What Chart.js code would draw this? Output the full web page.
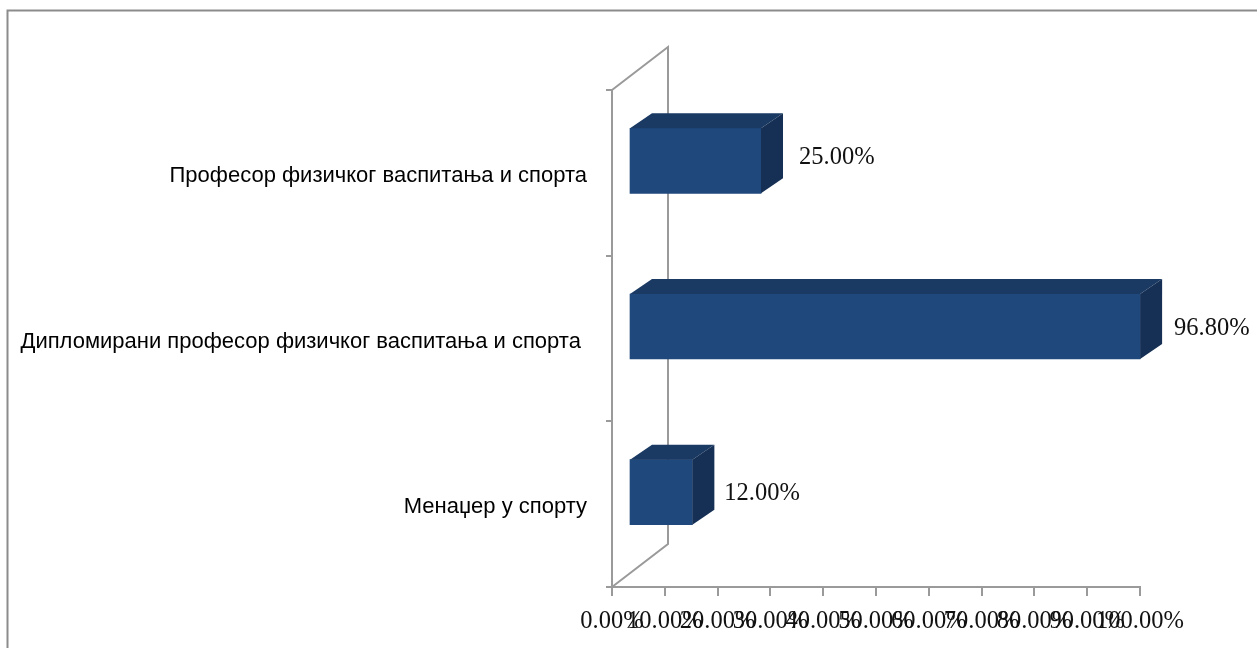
<!DOCTYPE html>
<html><head><meta charset="utf-8">
<style>html,body{margin:0;padding:0;background:#fff;overflow:hidden}canvas{display:block;filter:blur(0.45px)}</style>
<script src="https://cdn.jsdelivr.net/npm/chart.js@4"></script>
</head><body><div style="width:1257px;height:648px"><canvas id="c"></canvas></div>
<script>
const categories = ["Професор физичког васпитања и спорта", "Дипломирани професор физичког васпитања и спорта ", "Менаџер у спорту"];
const values = [25, 96.8, 12];
const xTicks = [0,10,20,30,40,50,60,70,80,90,100];
const labelNudges = [[1,-5],[-3,0],[-5,-1]];

const GREY = '#9a9a9a', FRONT = '#1f497d', TOP = '#1a3a63', SIDE = '#162f54';
const pct = v => v.toFixed(2) + '%';
const catFont = {family:'"Liberation Sans"', size:22};
const numFont = {family:'"Liberation Serif"', size:24.5};

const box3d = {
  id:'box3d',
  beforeDraw(ch){
    const {ctx,width,height} = ch;
    ctx.save();
    ctx.strokeStyle='#8c8c8c'; ctx.lineWidth=2;
    ctx.beginPath(); ctx.moveTo(7.5,height); ctx.lineTo(7.5,10.5); ctx.lineTo(width,10.5); ctx.stroke();
    ctx.restore();
  },
  beforeDatasetsDraw(ch){
    const {ctx,chartArea:a} = ch;
    ctx.save();
    ctx.strokeStyle=GREY; ctx.lineWidth=2;
    ctx.beginPath();
    ctx.moveTo(a.left,a.top); ctx.lineTo(a.left+56,a.top-43);
    ctx.lineTo(a.left+56,a.bottom-43); ctx.lineTo(a.left,a.bottom);
    ctx.stroke();
    ctx.restore();
    ctx.save();
    ctx.translate(17,-12);
  },
  afterDatasetsDraw(ch){
    const {ctx} = ch;
    const bars = ch.getDatasetMeta(0).data;
    const dx=22, dy=15;
    bars.forEach((b,i)=>{
      const x0=b.base, x1=b.x, y0=b.y-b.height/2, y1=b.y+b.height/2;
      ctx.fillStyle=TOP;
      ctx.beginPath(); ctx.moveTo(x0,y0); ctx.lineTo(x0+dx,y0-dy); ctx.lineTo(x1+dx,y0-dy); ctx.lineTo(x1,y0); ctx.closePath(); ctx.fill();
      ctx.fillStyle=SIDE;
      ctx.beginPath(); ctx.moveTo(x1,y0); ctx.lineTo(x1+dx,y0-dy); ctx.lineTo(x1+dx,y1-dy); ctx.lineTo(x1,y1); ctx.closePath(); ctx.fill();
    });
    ctx.restore();
    ctx.save();
    ctx.fillStyle='#111'; ctx.font=`${numFont.size}px ${numFont.family}`;
    ctx.textAlign='left'; ctx.textBaseline='middle';
    bars.forEach((b,i)=>ctx.fillText(pct(values[i]), b.x+54+labelNudges[i][0], b.y-10+labelNudges[i][1]));
    ctx.restore();
  }
};

new Chart(document.getElementById('c'),{
  type:'bar',
  plugins:[box3d],
  data:{labels:categories,datasets:[{data:values,backgroundColor:FRONT,borderWidth:0,barThickness:65,clip:false}]},
  options:{
    indexAxis:'y',responsive:true,maintainAspectRatio:false,animation:false,
    layout:{padding:{top:90,right:117,left:0,bottom:0}},
    plugins:{legend:{display:false},tooltip:{enabled:false},title:{display:false}},
    scales:{
      x:{min:0,max:100,afterBuildTicks(s){s.ticks=xTicks.map(v=>({value:v}));},
        afterFit(s){s.height=61;},
        border:{color:GREY,width:2},
        grid:{drawOnChartArea:false,drawTicks:true,tickLength:9,color:GREY,lineWidth:2},
        ticks:{autoSkip:false,maxRotation:0,minRotation:0,padding:11,color:'#111',font:numFont,callback:v=>pct(v)}},
      y:{afterFit(s){
          s.width=612;
          if(!s._shifted){
            s._shifted=true;
            const draw=s.drawLabels;
            s.drawLabels=function(a){const c=this.ctx;c.save();c.translate(0,3);draw.call(this,a);c.restore();};
          }
        },
        border:{color:GREY,width:2},
        grid:{drawOnChartArea:false,drawTicks:true,tickLength:6,offset:true,color:GREY,lineWidth:2},
        ticks:{autoSkip:false,padding:19,color:'#000',font:catFont}}
    }
  }
});
</script></body></html>
